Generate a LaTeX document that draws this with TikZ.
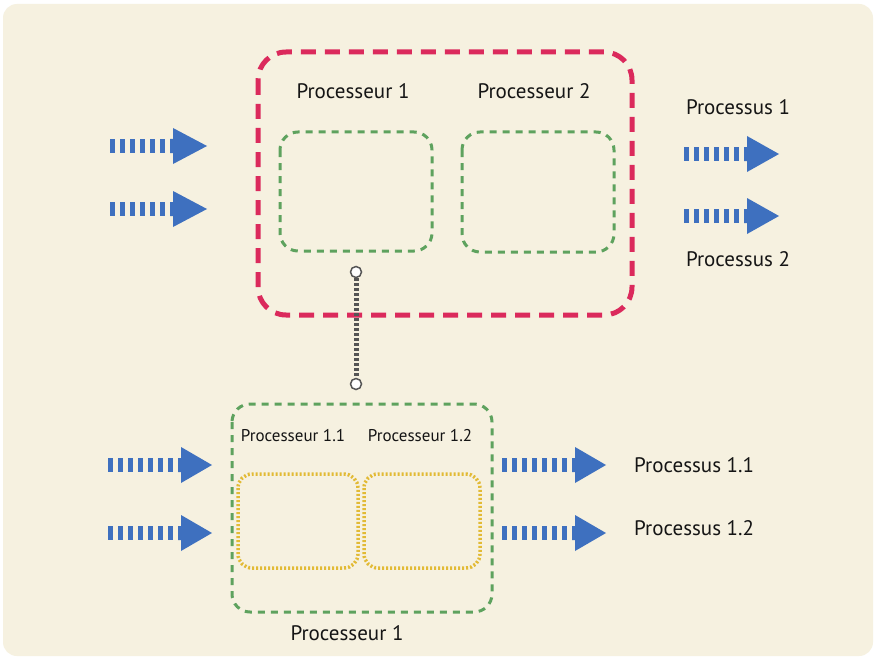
\documentclass[tikz,border=0pt]{standalone}
\usepackage{fontspec}
\setmainfont{PT Sans}
\definecolor{cream}{HTML}{F6F1E0}
\definecolor{redbox}{HTML}{DB2A5C}
\definecolor{greenbox}{HTML}{5EA25E}
\definecolor{yellowbox}{HTML}{E2BA35}
\definecolor{arrowblue}{HTML}{3E70BF}
\definecolor{linkgray}{HTML}{555555}
\definecolor{txt}{HTML}{151515}
\tikzset{
  redframe/.style={draw=redbox, line width=5pt, dash pattern=on 15pt off 9pt, rounded corners=28pt},
  greenframe/.style={draw=greenbox, line width=3pt, dash pattern=on 7pt off 6pt, rounded corners=18pt},
  yellowframe/.style={draw=yellowbox, line width=3.5pt, dash pattern=on 2pt off 2pt, rounded corners=14pt},
  biglabel/.style={text=txt, font=\fontsize{21}{24}\selectfont, inner sep=0pt},
  smalllabel/.style={text=txt, font=\fontsize{17}{20}\selectfont, inner sep=0pt},
  stripes/.style={draw=arrowblue, line width=14pt, dash pattern=on 5pt off 5pt},
  endpoint/.style={circle, draw=linkgray, fill=white, line width=1.5pt, minimum size=11pt, inner sep=0pt},
  linkline/.style={draw=linkgray, line width=5pt, dash pattern=on 2.5pt off 2.5pt},
  pics/sarrow/.style args={#1/#2/#3}{code={
    \path[stripes] (0,0) -- (#1,0);
    \fill[arrowblue] (#2-3,-7) -- (#2,-7) -- (#2,-18) -- (#3,0) -- (#2,18) -- (#2,7) -- (#2-3,7) -- cycle;
  }}
}
\begin{document}
\begin{tikzpicture}[x=1pt,y=-1pt]
\useasboundingbox (0,0) rectangle (875,658);
\fill[white] (0,0) rectangle (875,658);
\fill[cream, rounded corners=14pt] (3,4) rectangle (873,656);

% top group
\draw[redframe] (258,52) rectangle (632,315);
\draw[greenframe] (280,132) rectangle (432,251);
\draw[greenframe] (462,132) rectangle (614,252);
\node[biglabel] (p1) at (353,91) {Processeur 1};
\node[biglabel] (p2) at (534,91) {Processeur 2};

\pic at (110,146) {sarrow={57/63/97}};
\pic at (110,209) {sarrow={57/63/97}};
\pic at (684,154) {sarrow={57/63/95}};
\pic at (684,216) {sarrow={57/63/95}};
\node[biglabel] (o1) at (738,107) {Processus 1};
\node[biglabel] (o2) at (738,259) {Processus 2};

% link
\node[endpoint] (c1) at (356,272) {};
\node[endpoint] (c2) at (356,384) {};
\draw[linkline] (c1) -- (c2);

% bottom group
\draw[greenframe] (232,404) rectangle (492,612);
\draw[yellowframe] (238,474) rectangle (358,568);
\draw[yellowframe] (364,474) rectangle (480,568);
\node[smalllabel] (p11) at (293,436) {Processeur 1.1};
\node[smalllabel] (p12) at (420,436) {Processeur 1.2};
\node[biglabel] (pb) at (347,633) {Processeur 1};

\pic at (108,465) {sarrow={67/73/104}};
\pic at (108,533) {sarrow={67/73/104}};
\pic at (502,465) {sarrow={67/73/104}};
\pic at (502,533) {sarrow={67/73/104}};
\node[biglabel, anchor=west] (o11) at (634,465) {Processus 1.1};
\node[biglabel, anchor=west] (o12) at (634,528) {Processus 1.2};
\end{tikzpicture}
\end{document}
